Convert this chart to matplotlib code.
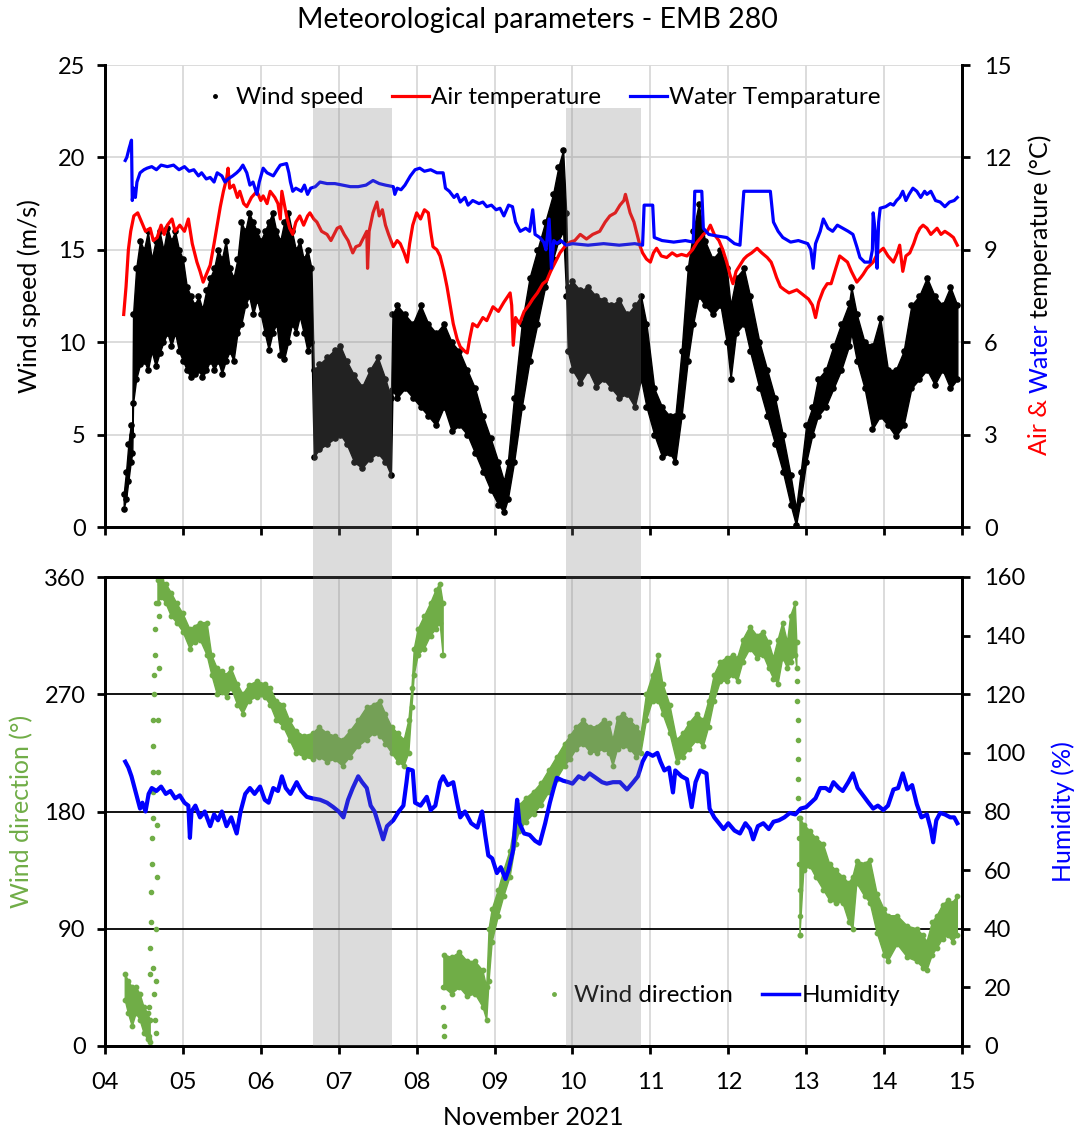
import numpy as np
import matplotlib
matplotlib.use("Agg")
import matplotlib.pyplot as plt
from matplotlib.lines import Line2D
from matplotlib.patches import Rectangle
from matplotlib.ticker import FuncFormatter, MultipleLocator
import matplotlib.transforms as mtransforms

plt.rcParams['font.family'] = ['Lato', 'DejaVu Sans']

GREEN = "#70AD47"

# ---- wind speed (m/s): time (day of Nov 2021), lower and upper edge of the point cloud
ws_t = [4.24, 4.27, 4.30, 4.33, 4.35, 4.36, 4.40, 4.45, 4.50, 4.55, 4.60, 4.65, 4.70, 4.75, 4.80,
        4.85, 4.90, 4.95, 5.00, 5.05, 5.10, 5.15, 5.20, 5.25, 5.30, 5.35, 5.40, 5.45, 5.50, 5.55,
        5.60, 5.65, 5.70, 5.75, 5.80, 5.85, 5.90, 5.95, 6.00, 6.05, 6.10, 6.15, 6.20, 6.25, 6.30,
        6.35, 6.40, 6.45, 6.50, 6.55, 6.60, 6.65, 6.68, 6.75, 6.85, 6.95, 7.02, 7.10, 7.20, 7.30,
        7.40, 7.50, 7.60, 7.67, 7.69, 7.75, 7.85, 7.95, 8.05, 8.15, 8.25, 8.35, 8.45, 8.55, 8.65,
        8.75, 8.85, 8.95, 9.05, 9.12, 9.17, 9.25, 9.35, 9.45, 9.55, 9.65, 9.75, 9.82, 9.88, 9.92,
        9.94, 10.00, 10.10, 10.20, 10.30, 10.40, 10.50, 10.60, 10.70, 10.80, 10.88, 10.95, 11.05,
        11.15, 11.25, 11.32, 11.40, 11.48, 11.55, 11.62, 11.70, 11.80, 11.90, 11.98, 12.03, 12.10,
        12.20, 12.28, 12.40, 12.50, 12.60, 12.70, 12.80, 12.87, 12.93, 13.00, 13.08, 13.15, 13.25,
        13.35, 13.45, 13.55, 13.58, 13.65, 13.75, 13.85, 13.95, 14.05, 14.15, 14.25, 14.35, 14.45,
        14.55, 14.65, 14.75, 14.85, 14.94]
ws_lo = [1.0, 1.5, 2.5, 3.5, 4.0, 6.7, 8.0, 8.8, 9.0, 8.5, 9.5, 8.7, 9.4, 10.0, 10.5,
         9.8, 10.5, 9.5, 9.0, 8.5, 8.1, 8.3, 8.5, 8.1, 8.5, 9.0, 8.5, 9.0, 8.3, 9.0,
         9.5, 9.0, 10.5, 11.0, 12.0, 12.5, 11.5, 12.3, 11.5, 10.5, 9.6, 10.5, 11.0, 9.3, 9.1,
         10.0, 11.0, 10.5, 11.4, 10.5, 9.5, 10.0, 3.8, 4.2, 4.5, 4.8, 5.0, 4.5, 3.5, 3.2,
         3.7, 4.0, 3.5, 2.8, 7.4, 7.0, 7.5, 7.0, 6.5, 6.0, 5.5, 6.5, 5.2, 5.5, 5.0,
         4.0, 3.0, 2.0, 1.2, 0.8, 1.5, 3.5, 6.5, 9.0, 11.0, 13.0, 14.5, 15.5, 16.0, 12.5,
         9.5, 8.5, 7.8, 8.5, 7.6, 8.0, 7.5, 7.0, 7.2, 6.5, 8.0, 6.5, 5.0,
         3.8, 4.0, 3.5, 6.0, 9.0, 11.0, 12.5, 12.0, 11.5, 12.0, 10.0, 8.0, 10.5,
         11.0, 9.5, 7.5, 6.0, 4.5, 3.0, 1.2, 0.1, 1.5, 3.5, 5.0, 6.0, 6.5,
         7.5, 8.5, 9.8, 10.5, 9.0, 7.5, 5.3, 6.0, 5.5, 4.9, 5.5, 7.5, 8.0,
         8.5, 7.7, 8.5, 7.5, 8.0]
ws_hi = [1.8, 3.0, 4.5, 5.5, 5.0, 11.5, 14.0, 15.5, 15.0, 16.0, 14.5, 15.5, 16.0, 15.0, 16.2,
         15.5, 16.0, 15.0, 14.5, 13.0, 12.5, 12.0, 12.5, 11.8, 12.8, 13.5, 14.0, 15.0, 14.5, 15.5,
         14.0, 13.5, 14.5, 16.5, 16.0, 17.0, 16.5, 16.0, 15.5, 16.0, 16.5, 17.0, 16.0, 15.5, 16.5,
         17.0, 16.0, 15.0, 15.5, 14.5, 15.0, 14.0, 8.5, 8.8, 9.2, 9.6, 9.8, 9.0, 8.2, 7.6,
         8.5, 9.2, 8.0, 7.0, 11.5, 12.0, 11.5, 11.0, 12.0, 11.0, 10.5, 11.0, 10.0, 9.5, 8.5,
         7.5, 6.0, 4.8, 3.5, 2.5, 3.5, 7.0, 11.0, 13.5, 15.0, 16.5, 18.0, 19.5, 20.4, 17.0,
         13.0, 13.3, 12.8, 13.0, 12.5, 12.3, 12.0, 12.3, 11.5, 12.0, 12.5, 11.0, 7.5,
         6.5, 6.0, 6.0, 9.5, 14.0, 16.0, 17.5, 15.5, 14.5, 15.0, 14.0, 12.0, 13.5,
         14.0, 12.5, 10.0, 8.5, 7.0, 5.0, 2.8, 1.0, 3.0, 5.5, 6.5, 8.0, 8.5,
         9.8, 11.0, 12.1, 13.0, 11.5, 10.0, 9.8, 11.3, 8.5, 8.5, 9.5, 12.0, 12.5,
         13.5, 12.5, 12.0, 13.0, 12.0]

# ---- air temperature (°C)
ta_t = [4.24, 4.27, 4.30, 4.33, 4.37, 4.42, 4.47, 4.52, 4.58, 4.62, 4.67, 4.72, 4.76, 4.80, 4.86,
        4.90, 4.96, 5.02, 5.07, 5.12, 5.18, 5.22, 5.26, 5.30, 5.35, 5.40, 5.44, 5.48, 5.52, 5.56,
        5.58, 5.60, 5.65, 5.70, 5.73, 5.78, 5.82, 5.88, 5.95, 6.00, 6.03, 6.08, 6.12, 6.18, 6.22,
        6.25, 6.27, 6.30, 6.33, 6.37, 6.41, 6.45, 6.50, 6.55, 6.60, 6.63, 6.68, 6.72, 6.78, 6.85,
        6.90, 6.93, 6.98, 7.02, 7.07, 7.12, 7.18, 7.22, 7.27, 7.32, 7.36, 7.37, 7.39, 7.44, 7.49,
        7.52, 7.56, 7.60, 7.64, 7.70, 7.75, 7.79, 7.84, 7.88, 7.91, 7.95, 8.00, 8.05, 8.10, 8.15,
        8.18, 8.21, 8.26, 8.30, 8.35, 8.39, 8.43, 8.47, 8.52, 8.56, 8.62, 8.65, 8.68, 8.72, 8.78,
        8.85, 8.90, 8.98, 9.05, 9.12, 9.20, 9.22, 9.24, 9.27, 9.32, 9.38, 9.44, 9.49, 9.55, 9.62,
        9.67, 9.72, 9.78, 9.84, 9.90, 9.97, 10.03, 10.10, 10.18, 10.26, 10.35, 10.42, 10.48, 10.55,
        10.61, 10.66, 10.68, 10.71, 10.74, 10.79, 10.83, 10.87, 10.90, 10.95, 11.00, 11.04, 11.08,
        11.14, 11.21, 11.28, 11.34, 11.40, 11.47, 11.54, 11.60, 11.65, 11.68, 11.73, 11.77, 11.82,
        11.88, 11.93, 11.98, 12.02, 12.06, 12.10, 12.15, 12.20, 12.24, 12.30, 12.37, 12.43, 12.50,
        12.55, 12.58, 12.62, 12.67, 12.72, 12.78, 12.83, 12.88, 12.93, 12.98, 13.03, 13.08, 13.12,
        13.16, 13.22, 13.27, 13.32, 13.38, 13.43, 13.48, 13.53, 13.58, 13.65, 13.70, 13.73, 13.78,
        13.82, 13.86, 13.92, 13.99, 14.05, 14.12, 14.17, 14.20, 14.24, 14.28, 14.33, 14.38, 14.42,
        14.46, 14.50, 14.55, 14.60, 14.64, 14.68, 14.73, 14.78, 14.84, 14.89, 14.94]
ta_v = [6.9, 7.8, 9.0, 9.6, 10.1, 10.2, 9.9, 9.6, 9.7, 9.3, 9.4, 9.8, 9.5, 9.8, 10.0,
        9.6, 9.8, 9.6, 10.0, 9.2, 8.6, 8.3, 7.95, 8.2, 8.5, 9.2, 9.8, 10.4, 10.9, 11.3,
        11.65, 11.0, 11.1, 10.7, 10.9, 10.5, 10.4, 10.7, 10.9, 10.6, 10.75, 10.5, 10.9, 10.7, 10.5,
        10.0, 10.9, 10.5, 10.1, 9.7, 9.5, 9.9, 10.1, 9.8, 10.1, 10.2, 10.0, 9.9, 9.6, 9.5,
        9.3, 9.45, 9.7, 9.75, 9.5, 9.3, 8.9, 9.1, 9.15, 9.4, 9.6, 8.4, 9.6, 10.2, 10.55,
        10.1, 10.3, 9.8, 9.5, 9.1, 9.3, 9.2, 8.9, 8.6, 9.2, 9.8, 10.2, 10.0, 10.3, 10.2,
        9.6, 9.1, 9.0, 8.8, 8.3, 7.8, 7.2, 6.6, 6.1, 5.85, 5.7, 5.65, 6.1, 6.6, 6.5,
        6.8, 6.7, 7.15, 7.0, 7.3, 7.6, 7.2, 5.9, 6.8, 6.6, 7.0, 7.2, 7.4, 7.6, 7.9,
        8.0, 8.3, 8.6, 8.9, 9.1, 9.25, 9.3, 9.5, 9.35, 9.5, 9.6, 9.9, 10.1, 10.2,
        10.45, 10.6, 10.8, 10.5, 10.2, 9.9, 9.5, 9.1, 8.9, 8.7, 8.6, 8.9, 9.05,
        8.8, 8.75, 8.9, 8.8, 8.85, 8.8, 9.0, 9.25, 9.4, 9.5, 9.6, 9.8, 9.5,
        9.3, 9.0, 8.6, 8.2, 7.9, 8.3, 8.5, 8.7, 8.8, 8.9, 9.05, 8.9, 8.75,
        8.6, 8.4, 8.1, 7.8, 7.7, 7.6, 7.65, 7.7, 7.6, 7.5, 7.4, 7.2, 6.8,
        7.3, 7.7, 7.9, 7.9, 8.4, 8.8, 8.7, 8.6, 8.3, 7.95, 8.1, 8.2, 8.4,
        8.5, 8.6, 8.9, 9.05, 8.8, 8.6, 8.9, 9.15, 8.3, 8.8, 8.9, 9.2, 9.5,
        9.7, 9.8, 9.7, 9.5, 9.6, 9.7, 9.5, 9.6, 9.5, 9.4, 9.15]

# ---- water temperature (°C)
tw_t = [4.26, 4.28, 4.31, 4.34, 4.35, 4.37, 4.39, 4.41, 4.45, 4.50, 4.54, 4.60, 4.66, 4.72, 4.80,
        4.88, 4.95, 5.02, 5.08, 5.14, 5.20, 5.24, 5.30, 5.35, 5.40, 5.44, 5.50, 5.54, 5.58, 5.64,
        5.69, 5.73, 5.77, 5.82, 5.86, 5.90, 5.95, 5.98, 6.03, 6.08, 6.16, 6.21, 6.25, 6.33, 6.36,
        6.38, 6.41, 6.45, 6.52, 6.56, 6.60, 6.64, 6.70, 6.76, 6.85, 6.95, 7.05, 7.15, 7.25, 7.35,
        7.44, 7.52, 7.60, 7.70, 7.72, 7.75, 7.80, 7.85, 7.92, 7.98, 8.04, 8.10, 8.18, 8.26, 8.34,
        8.37, 8.42, 8.48, 8.52, 8.56, 8.62, 8.66, 8.72, 8.80, 8.85, 8.90, 8.96, 9.02, 9.07, 9.12,
        9.18, 9.23, 9.27, 9.33, 9.40, 9.45, 9.49, 9.52, 9.58, 9.63, 9.66, 9.70, 9.73, 9.76, 9.80,
        9.85, 9.92, 10.00, 10.20, 10.40, 10.60, 10.80, 10.90, 10.92, 11.03, 11.05, 11.15, 11.30,
        11.45, 11.55, 11.57, 11.66, 11.68, 11.75, 11.85, 11.98, 12.08, 12.15, 12.20, 12.54, 12.58,
        12.64, 12.70, 12.80, 12.90, 13.02, 13.06, 13.09, 13.12, 13.18, 13.22, 13.28, 13.34, 13.40,
        13.47, 13.54, 13.60, 13.65, 13.69, 13.75, 13.82, 13.85, 13.86, 13.89, 13.91, 13.93, 13.95,
        14.02, 14.08, 14.12, 14.16, 14.20, 14.24, 14.28, 14.32, 14.37, 14.42, 14.47, 14.52, 14.55,
        14.60, 14.66, 14.72, 14.78, 14.84, 14.90, 14.94]
tw_v = [11.9, 12.0, 12.3, 12.56, 10.6, 11.0, 10.7, 11.2, 11.5, 11.6, 11.65, 11.7, 11.6, 11.75, 11.7,
        11.75, 11.6, 11.7, 11.55, 11.6, 11.4, 11.5, 11.3, 11.35, 11.2, 11.5, 11.4, 11.2, 11.3, 11.4,
        11.5, 11.6, 11.75, 11.5, 11.1, 11.2, 10.8, 11.2, 11.65, 11.5, 11.4, 11.6, 11.75, 11.8, 11.5,
        11.2, 10.9, 11.0, 10.9, 11.1, 10.8, 11.0, 11.05, 11.2, 11.15, 11.15, 11.1, 11.05, 11.05, 11.1,
        11.25, 11.15, 11.1, 11.05, 10.8, 11.0, 10.95, 11.1, 11.4, 11.6, 11.65, 11.55, 11.6, 11.5, 11.5,
        11.0, 10.9, 10.7, 10.8, 10.55, 10.7, 10.45, 10.6, 10.5, 10.55, 10.4, 10.45, 10.3, 10.35, 10.1,
        10.45, 10.4, 9.9, 9.6, 9.7, 9.6, 10.3, 9.5, 9.4, 9.25, 9.0, 10.0, 8.4, 9.3, 9.2,
        9.3, 9.15, 9.2, 9.15, 9.2, 9.15, 9.2, 9.15, 10.45, 10.45, 9.4, 9.3, 9.25,
        9.3, 9.25, 10.9, 10.9, 9.7, 9.5, 9.45, 9.4, 9.2, 9.15, 10.9, 10.9, 9.9,
        9.6, 9.4, 9.25, 9.3, 9.2, 9.0, 8.4, 9.2, 9.6, 10.0, 9.7, 9.6, 9.8,
        9.7, 9.6, 9.5, 9.1, 8.75, 8.6, 8.6, 9.0, 10.2, 9.5, 8.4, 9.9, 10.35,
        10.4, 10.5, 10.45, 10.6, 10.7, 10.9, 10.6, 10.8, 11.0, 10.9, 10.7, 10.9, 10.8,
        10.9, 10.6, 10.55, 10.4, 10.55, 10.6, 10.7]

# ---- wind direction (°): lower and upper edge of the point cloud
wd_t = [4.26, 4.30, 4.35, 4.40, 4.45, 4.50, 4.55, 4.58, np.nan, 4.68, 4.72, 4.78, 4.85, 4.92, 5.00,
        5.09, 5.15, 5.22, 5.31, 5.37, 5.44, 5.50, 5.56, 5.62, 5.70, 5.77, 5.85, 5.95, 6.05, 6.12,
        6.20, 6.29, 6.37, 6.45, 6.55, 6.67, 6.75, 6.85, 6.95, 7.05, 7.15, 7.25, 7.36, 7.45, 7.53,
        7.60, 7.68, 7.76, 7.84, 7.90, 7.94, 7.97, 8.02, 8.10, 8.18, 8.25, 8.30, 8.34, np.nan, 8.35,
        8.45, 8.55, 8.65, 8.75, 8.85, 8.90, 8.93, 8.97, 9.05, 9.12, 9.20, 9.27, 9.32, 9.40, 9.50,
        9.60, 9.70, 9.80, 9.90, 9.97, 10.05, 10.14, 10.22, 10.31, 10.40, 10.47, 10.52, 10.58, 10.65,
        10.74, 10.82, 10.88, 10.95, 11.03, 11.10, 11.16, 11.25, 11.34, 11.42, 11.50, 11.60, 11.68,
        11.75, 11.82, 11.90, 11.98, 12.06, 12.12, 12.19, 12.28, 12.37, 12.45, 12.52, 12.58, 12.64,
        12.70, 12.76, 12.80, 12.86, 12.88, np.nan, 12.92, 12.97, 13.05, 13.12, 13.22, 13.30, 13.38,
        13.47, 13.55, 13.60, 13.65, 13.75, 13.82, 13.91, 14.00, 14.05, 14.17, 14.30, 14.42, 14.50,
        14.55, 14.62, 14.68, 14.75, 14.82, 14.88, 14.94]
wd_lo = [35, 25, 15, 25, 20, 10, 5, 3, np.nan, 340, 345, 340, 330, 325, 318,
         305, 310, 312, 300, 285, 270, 272, 268, 275, 262, 255, 265, 268, 268, 262,
         250, 245, 235, 225, 222, 220, 222, 218, 220, 215, 222, 230, 235, 240, 238,
         232, 225, 218, 215, 225, 260, 285, 300, 305, 315, 320, 325, 300, np.nan, 45,
         40, 45, 38, 40, 30, 20, 50, 80, 100, 115, 130, 155, 165, 172, 178,
         185, 195, 205, 215, 220, 228, 232, 226, 225, 228, 225, 215, 228, 230,
         228, 222, 225, 250, 265, 265, 255, 240, 218, 222, 228, 235, 230,
         245, 265, 280, 280, 285, 280, 295, 305, 298, 300, 290, 282, 278,
         298, 290, 295, 300, 290, np.nan, 85, 135, 138, 130, 120, 112, 110,
         110, 95, 90, 125, 115, 110, 87, 70, 65, 78, 68, 65, 60,
         58, 70, 75, 82, 85, 80, 85]
wd_hi = [55, 50, 45, 45, 40, 30, 25, 20, np.nan, 358, 358, 355, 348, 340, 332,
         320, 322, 325, 325, 300, 290, 288, 285, 290, 278, 270, 277, 280, 278, 275,
         265, 262, 250, 242, 238, 240, 245, 240, 238, 235, 242, 250, 260, 262, 265,
         255, 245, 240, 235, 250, 275, 305, 320, 330, 340, 350, 355, 340, np.nan, 70,
         68, 72, 65, 65, 58, 45, 90, 105, 120, 135, 150, 175, 185, 190, 195,
         202, 212, 222, 232, 238, 245, 250, 245, 245, 250, 248, 235, 252, 255,
         250, 245, 240, 270, 285, 300, 278, 262, 235, 240, 248, 255, 250,
         265, 285, 295, 298, 300, 298, 312, 322, 315, 318, 310, 298, 312,
         325, 310, 330, 340, 310, np.nan, 175, 170, 165, 160, 155, 140, 135,
         130, 125, 130, 142, 140, 143, 117, 105, 100, 100, 92, 90, 85,
         80, 95, 100, 108, 112, 110, 115]

# isolated wind direction readings (fast turns through north / jumps)
wd_sp_t = [4.56, 4.57, 4.57, 4.58, 4.58, 4.59, 4.59, 4.60, 4.60, 4.61, 4.61, 4.61, 4.62, 4.62,
           4.62, 4.63, 4.63, 4.63, 4.64, 4.64, 4.64, 4.65, 4.65, 4.66, 4.66, 4.67, 4.67, 4.68,
           4.68, 4.69, 4.69, 4.70, 8.33, 8.34, 8.34, 8.35, 8.35, 12.88, 12.885, 12.89, 12.89,
           12.895, 12.90, 12.90, 12.905, 12.91, 12.91, 12.915, 12.92, 12.92]
wd_sp_v = [5, 8, 30, 55, 75, 95, 118, 140, 160, 175, 195, 60, 210, 230, 250, 270, 285, 40, 300,
           320, 20, 340, 10, 50, 90, 130, 170, 210, 250, 290, 330, 355, 300, 45, 30, 15, 8,
           280, 265, 250, 235, 220, 205, 190, 175, 160, 140, 120, 100, 85]

# ---- relative humidity (%)
rh_t = [4.26, 4.30, 4.34, 4.38, 4.42, 4.45, 4.48, 4.52, 4.56, 4.60, 4.66, 4.72, 4.78, 4.84, 4.90,
        4.96, 5.02, 5.07, 5.09, 5.11, 5.16, 5.22, 5.28, 5.35, 5.40, 5.45, 5.50, 5.56, 5.62, 5.69,
        5.74, 5.80, 5.86, 5.92, 5.99, 6.05, 6.10, 6.16, 6.22, 6.27, 6.32, 6.38, 6.46, 6.52, 6.59,
        6.66, 6.76, 6.85, 6.93, 7.00, 7.06, 7.12, 7.18, 7.25, 7.30, 7.36, 7.41, 7.46, 7.53, 7.57,
        7.62, 7.70, 7.77, 7.83, 7.87, 7.89, 7.95, 7.98, 8.05, 8.13, 8.18, 8.24, 8.30, 8.34, 8.40,
        8.47, 8.52, 8.56, 8.62, 8.70, 8.78, 8.84, 8.88, 8.92, 8.97, 9.03, 9.08, 9.14, 9.18, 9.24,
        9.27, 9.29, 9.32, 9.38, 9.45, 9.52, 9.58, 9.65, 9.71, 9.76, 9.80, 9.88, 9.95, 10.00, 10.08,
        10.15, 10.22, 10.30, 10.38, 10.44, 10.52, 10.61, 10.70, 10.78, 10.84, 10.90, 10.96, 11.03,
        11.09, 11.13, 11.18, 11.24, 11.29, 11.32, 11.40, 11.47, 11.53, 11.58, 11.64, 11.72, 11.76,
        11.82, 11.88, 11.94, 12.00, 12.08, 12.15, 12.22, 12.28, 12.32, 12.38, 12.45, 12.52, 12.58,
        12.65, 12.72, 12.79, 12.86, 12.93, 13.00, 13.06, 13.12, 13.18, 13.25, 13.30, 13.35, 13.42,
        13.47, 13.54, 13.60, 13.66, 13.73, 13.80, 13.86, 13.92, 13.99, 14.05, 14.12, 14.18, 14.24,
        14.30, 14.36, 14.42, 14.48, 14.55, 14.60, 14.63, 14.67, 14.72, 14.78, 14.85, 14.90, 14.94]
rh_v = [97, 95, 92, 88, 84, 81, 83, 80, 86, 88, 87, 88.5, 86, 87, 84.5,
        85.5, 83, 82, 71, 80, 82, 78, 80, 75, 79, 77, 80, 75, 78, 72.5,
        80, 86, 88, 86, 88.5, 84, 83, 88, 87, 92, 88, 86, 90, 87, 85,
        84.5, 84, 83, 81.5, 80, 78, 84, 88, 92, 90, 88, 82, 80, 74, 70.5,
        75, 77, 80, 82, 90, 94.5, 94, 83, 82, 85, 80.5, 82, 90, 92, 89,
        90, 83, 78, 80, 76, 74.5, 80, 72, 65, 64, 59, 61, 57, 60, 67,
        78, 84, 76, 72.5, 72, 70, 69, 76, 83, 88, 91.5, 90.5, 90, 89.5, 92,
        91, 93, 91.5, 90, 89.5, 90, 90, 87.5, 90, 92, 97, 100, 99,
        100, 97, 94, 95, 86.5, 94, 92, 91, 81.5, 90, 94, 93, 81,
        78, 76, 74, 76, 73.5, 72.5, 76, 74, 70.5, 75, 76, 74, 76.5,
        77, 78, 79.5, 79, 81, 81.5, 83, 84.5, 88, 88, 87, 90, 88,
        87, 90, 93, 88, 85.5, 83, 81, 82, 80.5, 82, 87.5, 88, 93,
        87.5, 89, 82.5, 78, 79, 74, 69.5, 77, 79.5, 79, 78, 78, 76]

# shaded periods
shade_start = [6.67, 9.92]
shade_end = [7.68, 10.88]

day_ticks = list(range(4, 16))

FS = 18      # axis labels
TFS = 17     # tick labels
LFS = 17.5   # legend

fig = plt.figure(figsize=(10.75, 11.3), dpi=100)
W, H = 1075.0, 1130.0
ax1 = fig.add_axes([105 / W, 1 - 527 / H, 857 / W, 462 / H])
ax2 = fig.add_axes([105 / W, 1 - 1046 / H, 857 / W, 469 / H])
ax1r = ax1.twinx()
ax2r = ax2.twinx()

# ---- top panel
ax1.fill_between(ws_t, ws_lo, ws_hi, color="black", lw=1, zorder=2)
ax1.scatter(ws_t, ws_lo, s=14, color="black", zorder=2)
ax1.scatter(ws_t, ws_hi, s=14, color="black", zorder=2)
ax1r.plot(ta_t, ta_v, color="red", lw=2.3)
ax1r.plot(tw_t, tw_v, color="blue", lw=2.3)

ax1.set_ylim(0, 25)
ax1r.set_ylim(0, 15)
ax1.yaxis.set_major_locator(MultipleLocator(5))
ax1r.yaxis.set_major_locator(MultipleLocator(3))
ax1.grid(True, color="#d9d9d9", lw=1.3)
ax1.set_axisbelow(True)

# ---- bottom panel
ax2.fill_between(wd_t, wd_lo, wd_hi, color=GREEN, lw=1, zorder=2)
ax2.scatter(wd_t, wd_lo, s=10, color=GREEN, zorder=2)
ax2.scatter(wd_t, wd_hi, s=10, color=GREEN, zorder=2)
ax2.scatter(wd_sp_t, wd_sp_v, s=9, color=GREEN, zorder=2)
ax2r.plot(rh_t, rh_v, color="blue", lw=3)

ax2.set_ylim(0, 360)
ax2r.set_ylim(0, 160)
ax2.yaxis.set_major_locator(MultipleLocator(90))
ax2r.yaxis.set_major_locator(MultipleLocator(20))
ax2.xaxis.grid(True, color="#d9d9d9", lw=1.3)
ax2.yaxis.grid(True, color="black", lw=1.3)
ax2.set_axisbelow(True)

for ax in (ax1, ax2, ax1r, ax2r):
    ax.set_xlim(4, 15)
    ax.set_xticks(day_ticks)
    for s in ax.spines.values():
        s.set_linewidth(2)
    ax.tick_params(direction="out", length=6, width=2, labelsize=TFS)
    ax.tick_params(axis="x", pad=13)
ax1.tick_params(axis="y", pad=8)
ax2.tick_params(axis="y", pad=8)
ax1r.tick_params(axis="y", pad=10)
ax2r.tick_params(axis="y", pad=10)

ax1.spines["top"].set_visible(False)
ax1r.spines["top"].set_visible(False)
ax1.tick_params(axis="x", labelbottom=False)
ax2.xaxis.set_major_formatter(FuncFormatter(lambda v, p: f"{int(v):02d}"))

ax1.set_ylabel("Wind speed (m/s)", fontsize=FS)
ax1.yaxis.set_label_coords(-0.075, 0.5)
ax2.set_ylabel("Wind direction (°)", fontsize=FS, color=GREEN)
ax2.yaxis.set_label_coords(-0.084, 0.5)
ax2r.set_ylabel("Humidity (%)", fontsize=FS, color="blue")
ax2r.yaxis.set_label_coords(1.104, 0.5)
ax2.set_xlabel("November 2021", fontsize=FS, labelpad=9)
fig.suptitle("Meteorological parameters - EMB 280", fontsize=20.5, y=0.994)

# multicoloured right label of the top panel
t1 = ax1r.text(1.091, 0.156, "Air &", transform=ax1r.transAxes, rotation=90,
               color="red", fontsize=FS, ha="center", va="bottom")
t2 = ax1r.annotate("Water", xy=(0.5, 1), xycoords=t1, xytext=(0, 4),
                   textcoords="offset points", rotation=90, color="blue",
                   fontsize=FS, ha="center", va="bottom", annotation_clip=False)
t3 = ax1r.annotate("temperature (°C)", xy=(0.5, 1), xycoords=t2, xytext=(0, 4),
                   textcoords="offset points", rotation=90, color="black",
                   fontsize=FS, ha="center", va="bottom", annotation_clip=False)

# legends
h_top = [Line2D([], [], ls="none", marker="o", ms=2.5, color="black"),
         Line2D([], [], color="red", lw=2.3),
         Line2D([], [], color="blue", lw=2.3)]
ax1r.legend(h_top, ["Wind speed", "Air temperature", "Water Temparature"], ncol=3,
            loc="center", bbox_to_anchor=(0.506, 0.929), frameon=False, fontsize=LFS,
            handlelength=1.5, handletextpad=0.1, columnspacing=1.2)
h_bot = [Line2D([], [], ls="none", marker="o", ms=2.5, color=GREEN),
         Line2D([], [], color="blue", lw=2.5)]
ax2r.legend(h_bot, ["Wind direction", "Humidity"], ncol=2, loc="center",
            bbox_to_anchor=(0.715, 0.107), frameon=False, fontsize=LFS,
            handlelength=1.5, handletextpad=0.1, columnspacing=1.2)

# grey shading, continuous across both panels
trans = mtransforms.blended_transform_factory(ax2.transData, fig.transFigure)
for a, b in zip(shade_start, shade_end):
    fig.patches.append(Rectangle((a, 1 - 1046 / H), b - a, (1046 - 108) / H,
                                 transform=trans, facecolor=(0.5, 0.5, 0.5),
                                 alpha=0.27, lw=0, zorder=5))

fig.savefig("out.png", dpi=100)
